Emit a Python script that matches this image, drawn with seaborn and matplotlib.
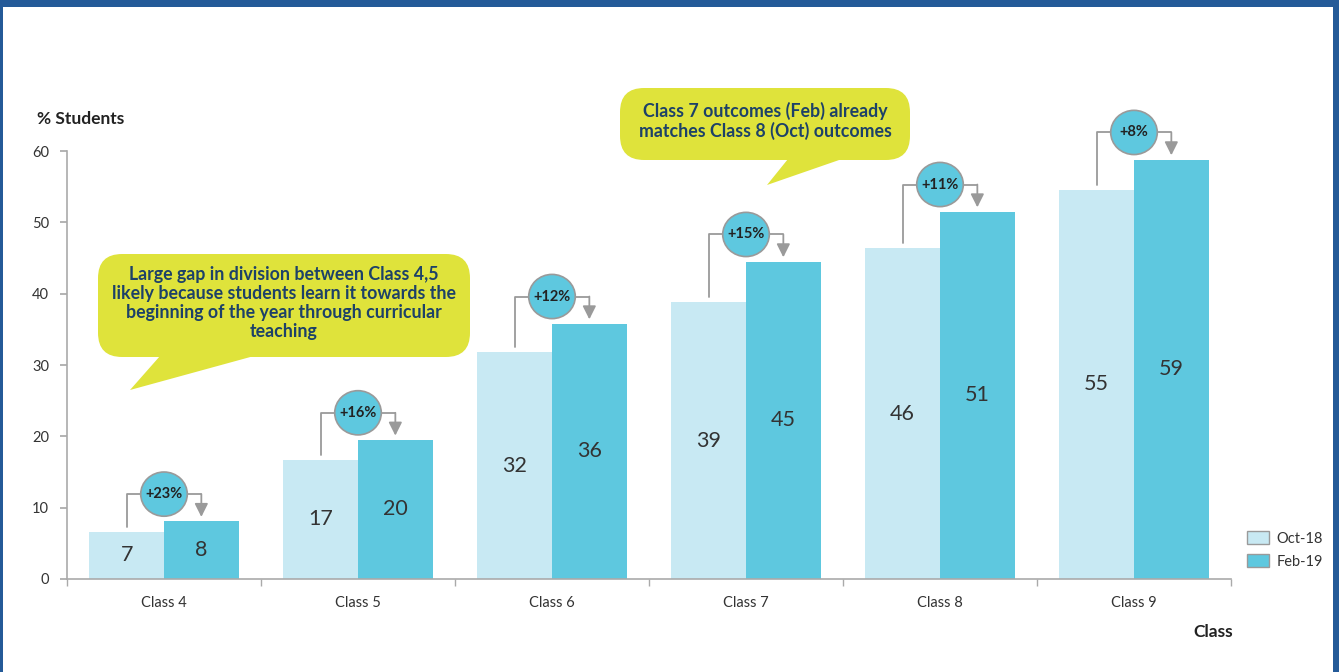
import matplotlib
matplotlib.use("Agg")
import matplotlib.pyplot as plt
import seaborn as sns
import pandas as pd
from matplotlib.patches import Ellipse, FancyBboxPatch, Polygon, Rectangle

# data
classes = ["Class 4", "Class 5", "Class 6", "Class 7", "Class 8", "Class 9"]
oct_18 = [6.6, 16.7, 31.8, 38.8, 46.4, 54.6]
feb_19 = [8.1, 19.5, 35.8, 44.5, 51.5, 58.8]
oct_labels = ["7", "17", "32", "39", "46", "55"]
feb_labels = ["8", "20", "36", "45", "51", "59"]
growth = ["+23%", "+16%", "+12%", "+15%", "+11%", "+8%"]
periods = ["Oct-18", "Feb-19"]

note_left = ("Large gap in division between Class 4,5\n"
             "likely because students learn it towards the\n"
             "beginning of the year through curricular\n"
             "teaching")
note_right = "Class 7 outcomes (Feb) already\nmatches Class 8 (Oct) outcomes"

LIGHT = "#c8e9f3"
TEAL = "#5ec8df"
GREY = "#9a9a9a"
BUBBLE = "#dfe33b"
NAVY = "#1d4168"
FRAME = "#245a98"
W, H = 1339, 672

df = pd.DataFrame({
    "Class": classes * 2,
    "value": oct_18 + feb_19,
    "Period": [periods[0]] * 6 + [periods[1]] * 6,
})

sns.set_theme(style="white")
plt.rcParams["font.family"] = ["Lato", "DejaVu Sans"]


def px(x, y):
    # image pixel (top-left origin) -> figure fraction
    return x / W, 1 - y / H


fig = plt.figure(figsize=(W / 100, H / 100), dpi=100)
ax = fig.add_axes([67 / W, 1 - 579 / H, (1231 - 67) / W, (579 - 151) / H])

sns.barplot(data=df, x="Class", y="value", hue="Period", palette=[LIGHT, TEAL],
            width=0.77, linewidth=0, saturation=1, ax=ax)

ax.set_xlim(-0.5, len(classes) - 0.5)
ax.set_ylim(0, 60)
ax.set_yticks(range(0, 61, 10))
ax.set_xlabel("")
ax.set_ylabel("")
for s in ["top", "right"]:
    ax.spines[s].set_visible(False)
for s in ["left", "bottom"]:
    ax.spines[s].set_color("#aaaaaa")
    ax.spines[s].set_linewidth(1.2)
ax.tick_params(axis="y", length=5, color="#aaaaaa", left=True, labelsize=10.5,
               labelcolor="#333333", pad=8)
ax.tick_params(axis="x", length=0, labelsize=10.5, labelcolor="#333333", pad=12)
ax.set_xticks([i + 0.5 for i in range(-1, 6)], minor=True)
ax.tick_params(axis="x", which="minor", length=5, color="#aaaaaa", bottom=True)

# value labels inside the bars
ax.bar_label(ax.containers[0], labels=oct_labels, label_type="center",
             fontsize=15.5, color="#333333")
ax.bar_label(ax.containers[1], labels=feb_labels, label_type="center",
             fontsize=15.5, color="#333333")

# growth brackets with arrows and circles
for i, (bo, bf) in enumerate(zip(ax.containers[0], ax.containers[1])):
    xo = bo.get_x() + bo.get_width() / 2
    xf = bf.get_x() + bf.get_width() / 2
    level = bf.get_height() + 3.8
    ax.plot([xo, xo, xf], [bo.get_height() + 0.7, level, level],
            color=GREY, lw=1.3, clip_on=False, zorder=3)
    ax.annotate("", xy=(xf, bf.get_height() + 0.6), xytext=(xf, level),
                arrowprops=dict(arrowstyle="-|>", color=GREY, lw=1.3,
                                mutation_scale=20, shrinkA=0, shrinkB=0),
                annotation_clip=False, zorder=3)
    xc = (xo + xf) / 2
    ax.add_patch(Ellipse((xc, level), 0.24, 6.2, fc=TEAL, ec=GREY, lw=1.2,
                         clip_on=False, zorder=4))
    ax.text(xc, level, growth[i], ha="center", va="center", fontsize=10.5,
            fontweight="bold", color="#222222", zorder=5)

# legend outside on the right
handles, labels = ax.get_legend_handles_labels()
for h in handles:
    h.set_edgecolor(GREY)
    h.set_linewidth(1)
ax.legend(handles, labels, loc="upper left", bbox_to_anchor=px(1234, 518),
          bbox_transform=fig.transFigure, frameon=False, fontsize=10.5,
          handlelength=1.5, handleheight=1.0, handletextpad=0.5,
          labelspacing=0.6, labelcolor="#333333")

# axis titles
fig.text(*px(37, 119), "% Students", ha="left", va="center", fontsize=12.5,
         fontweight="bold", color="#222222")
fig.text(*px(1233, 632), "Class", ha="right", va="center", fontsize=12.5,
         fontweight="bold", color="#222222")


# speech bubbles
def bubble(x0, y0, x1, y1, tail, text, tx, ty):
    (fx0, fy1), (fx1, fy0) = px(x0, y0), px(x1, y1)
    fig.patches.append(FancyBboxPatch(
        (fx0, fy0), fx1 - fx0, fy1 - fy0,
        boxstyle="round,pad=0,rounding_size=0.018", mutation_aspect=W / H,
        fc=BUBBLE, ec="none", transform=fig.transFigure, zorder=6))
    fig.patches.append(Polygon([px(*p) for p in tail], closed=True, fc=BUBBLE,
                               ec="none", transform=fig.transFigure, zorder=6))
    fig.text(*px(tx, ty), text, ha="center", va="center", fontsize=12.8,
             fontweight="bold", color=NAVY, linespacing=1.15, zorder=7)


bubble(98, 254, 470, 357, [(160, 356), (254, 356), (130, 390)],
       note_left, 284, 303)
bubble(620, 88, 910, 160, [(788, 159), (842, 159), (767, 185)],
       note_right, 765, 121)

# blue frame
for rect in [(0, 1 - 7 / H, 1, 7 / H), (0, 0, 3 / W, 1), (1 - 6 / W, 0, 6 / W, 1)]:
    fig.patches.append(Rectangle(rect[:2], rect[2], rect[3], fc=FRAME, ec="none",
                                 transform=fig.transFigure, zorder=10))

fig.savefig("out.png", dpi=100)
